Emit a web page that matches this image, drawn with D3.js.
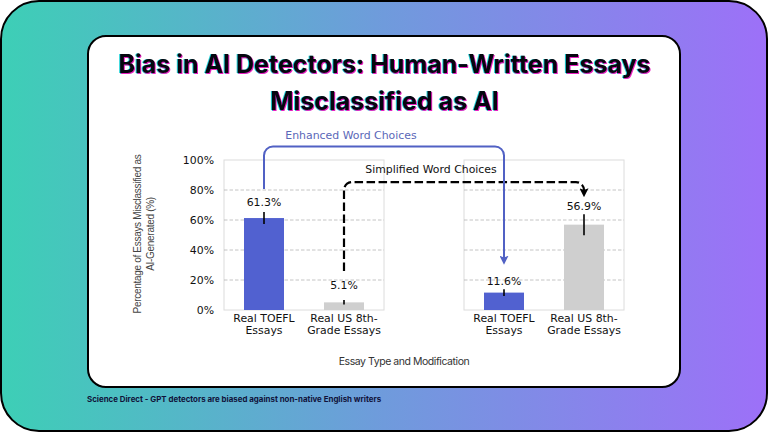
<!DOCTYPE html>
<html>
<head>
<meta charset="utf-8">
<script src="https://cdn.jsdelivr.net/npm/d3@7"></script>
<style>
  html, body { margin: 0; padding: 0; background: #fff; }
  svg { display: block; }
  .title { font-family: Inter, "Noto Sans", sans-serif; font-weight: 700; font-size: 25px; fill: #06060f;
    filter: drop-shadow(1px 1px 0 #e81fc0) drop-shadow(-0.6px 0 0 #22d3d8); }
  .mpl { font-family: "DejaVu Sans", sans-serif; }
</style>
</head>
<body>
<svg id="chart"></svg>
<script>
const categories = [["Real TOEFL", "Essays"], ["Real US 8th-", "Grade Essays"]];
const original = [61.3, 5.1];
const modified = [11.6, 56.9];
const originalErr = [4, 1.5];
const modifiedErr = [2.2, 7];
const originalLabelAt = [72, 16.7];
const modifiedLabelAt = [19.5, 69.3];
const yTicks = [0, 20, 40, 60, 80, 100];
const barColors = ["#5161d0", "#cfcfcf"];
// arrow anchors in value units: start, top run, end
const enhanced = { from: 80.7, run: 109, to: 32, label: "Enhanced Word Choices", color: "#5161c4" };
const simplified = { from: 26, run: 85.3, to: 77, label: "Simplified Word Choices", color: "#000" };
const titleLines = ["Bias in AI Detectors: Human-Written Essays", "Misclassified as AI"];
const yLabelLines = ["Percentage of Essays Misclassified as", "AI-Generated (%)"];
const xLabel = "Essay Type and Modification";
const source = "Science Direct - GPT detectors are biased against non-native English writers";

const width = 768, height = 432;
const fontSize = 10.9;
const svg = d3.select("#chart").attr("width", width).attr("height", height);

const defs = svg.append("defs");
const grad = defs.append("linearGradient").attr("id", "bg");
grad.append("stop").attr("offset", "0%").attr("stop-color", "#3dcfb6");
grad.append("stop").attr("offset", "50%").attr("stop-color", "#6f9bdc");
grad.append("stop").attr("offset", "100%").attr("stop-color", "#9d70f8");
[["arrowBlue", enhanced.color], ["arrowBlack", simplified.color]].forEach(([id, c]) => {
  defs.append("marker").attr("id", id).attr("viewBox", "0 0 10 10").attr("refX", 7).attr("refY", 5)
    .attr("markerUnits", "userSpaceOnUse").attr("markerWidth", 9).attr("markerHeight", 9).attr("orient", "auto")
    .append("path").attr("d", "M0,0L10,5L0,10L2,5Z").attr("fill", c);
});

svg.append("rect").attr("x", 1).attr("y", 1).attr("width", width - 2).attr("height", height - 2)
  .attr("rx", 38).attr("fill", "url(#bg)").attr("stroke", "#000").attr("stroke-width", 2);
svg.append("rect").attr("x", 88).attr("y", 36).attr("width", 592).attr("height", 351)
  .attr("rx", 18).attr("fill", "#fff").attr("stroke", "#000").attr("stroke-width", 2);

svg.selectAll(".title").data(titleLines).join("text").attr("class", "title")
  .attr("x", 384.5).attr("y", (d, i) => 73 + i * 37).attr("text-anchor", "middle").text(d => d);

const y = d3.scaleLinear().domain([0, 100]).range([310, 160]);
const keys = [0, 1];
const panels = [
  { values: original, err: originalErr, labelAt: originalLabelAt, range: [224, 384] },
  { values: modified, err: modifiedErr, labelAt: modifiedLabelAt, range: [464, 624] },
];
panels.forEach(p => {
  p.x = d3.scaleBand().domain(keys).range(p.range).paddingInner(0.5).paddingOuter(0.25);
  p.cx = k => p.x(k) + p.x.bandwidth() / 2;
});

panels.forEach((p, pi) => {
  const g = svg.append("g").attr("class", "mpl");
  g.append("rect").attr("x", p.range[0]).attr("y", y(100)).attr("width", p.range[1] - p.range[0])
    .attr("height", y(0) - y(100)).attr("fill", "none").attr("stroke", "#dcdcdc").attr("stroke-width", 1);
  g.selectAll(".grid").data(yTicks.slice(1, -1)).join("line")
    .attr("x1", p.range[0]).attr("x2", p.range[1]).attr("y1", d => y(d)).attr("y2", d => y(d))
    .attr("stroke", "#b5b5b5").attr("stroke-width", 0.8).attr("stroke-dasharray", "3.5,2");
  g.selectAll(".bar").data(p.values).join("rect")
    .attr("x", (d, i) => p.x(i)).attr("width", p.x.bandwidth())
    .attr("y", d => y(d)).attr("height", d => y(0) - y(d)).attr("fill", (d, i) => barColors[i]);
  g.selectAll(".err").data(p.values).join("line")
    .attr("x1", (d, i) => p.cx(i)).attr("x2", (d, i) => p.cx(i))
    .attr("y1", (d, i) => y(d + p.err[i])).attr("y2", (d, i) => y(d - p.err[i]))
    .attr("stroke", "#000").attr("stroke-width", 1.6);
  g.selectAll(".val").data(p.values).join("text")
    .attr("x", (d, i) => p.cx(i)).attr("y", (d, i) => y(p.labelAt[i])).attr("dy", "0.36em")
    .attr("text-anchor", "middle").attr("font-size", fontSize).attr("fill", "#111")
    .text(d => d + "%");
  const xAxis = g.append("g").attr("transform", `translate(0,${y(0)})`)
    .call(d3.axisBottom(p.x).tickSize(0).tickFormat(""));
  xAxis.select(".domain").remove();
  xAxis.selectAll(".tick text").each(function (k) {
    const t = d3.select(this).attr("y", 0).attr("dy", null).attr("font-size", fontSize)
      .attr("font-family", "DejaVu Sans").attr("fill", "#111");
    categories[k].forEach((line, i) => {
      t.append("tspan").attr("x", 0).attr("y", 12 + i * 12.4).text(line);
    });
  });
  if (pi === 0) {
    const yAxis = g.append("g").attr("transform", `translate(${p.range[0]},0)`)
      .call(d3.axisLeft(y).tickValues(yTicks).tickSize(0).tickPadding(10).tickFormat(d => d + "%"));
    yAxis.select(".domain").remove();
    yAxis.selectAll("text").attr("font-size", fontSize).attr("font-family", "DejaVu Sans").attr("fill", "#111");
  }
});

const elbow = (x0, x1, a, r) => {
  const p = d3.path();
  p.moveTo(x0, y(a.from));
  p.arcTo(x0, y(a.run), x1, y(a.run), r);
  p.arcTo(x1, y(a.run), x1, y(a.to), r);
  p.lineTo(x1, y(a.to));
  return p.toString();
};
svg.append("path").attr("d", elbow(panels[0].cx(1), panels[1].cx(1), simplified, 8))
  .attr("fill", "none").attr("stroke", simplified.color).attr("stroke-width", 2.2)
  .attr("stroke-dasharray", "8.5,3.5").attr("marker-end", "url(#arrowBlack)");
svg.append("path").attr("d", elbow(panels[0].cx(0), panels[1].cx(0), enhanced, 9))
  .attr("fill", "none").attr("stroke", enhanced.color).attr("stroke-width", 2)
  .attr("marker-end", "url(#arrowBlue)");

svg.append("text").attr("class", "mpl").attr("x", 351).attr("y", 138.5).attr("text-anchor", "middle")
  .attr("font-size", fontSize).attr("fill", "#5a67b8").text(enhanced.label);
svg.append("text").attr("class", "mpl").attr("x", 431).attr("y", 173).attr("text-anchor", "middle")
  .attr("font-size", fontSize).attr("fill", "#111").text(simplified.label);

svg.selectAll(".ylab").data(yLabelLines).join("text")
  .attr("transform", (d, i) => `translate(${141 + i * 12.5},234) rotate(-90)`)
  .attr("text-anchor", "middle").attr("font-family", "Liberation Sans")
  .attr("font-size", 10).attr("letter-spacing", -0.3).attr("fill", "#444").text(d => d);
svg.append("text").attr("x", 404).attr("y", 365).attr("text-anchor", "middle")
  .attr("font-family", "Inter").attr("font-size", 10.5).attr("letter-spacing", -0.45).attr("fill", "#333").text(xLabel);
svg.append("text").attr("x", 87).attr("y", 402).attr("font-family", "Inter").attr("font-weight", 700)
  .attr("font-size", 7.9).attr("fill", "#10123a").text(source);
</script>
</body>
</html>
